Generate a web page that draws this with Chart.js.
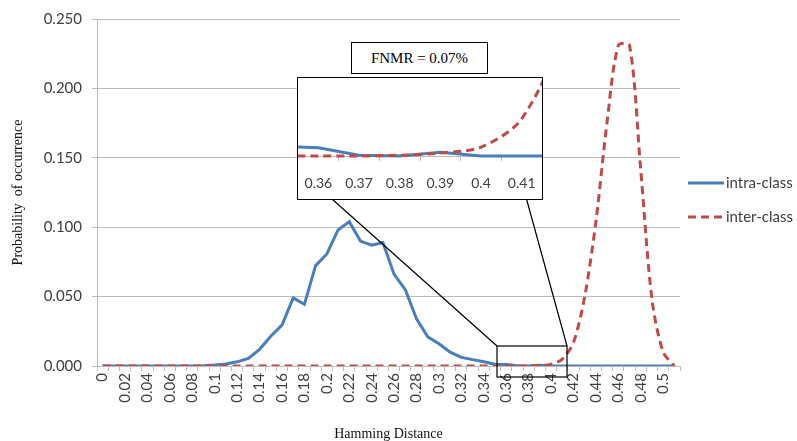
<!DOCTYPE html>
<html>
<head>
<meta charset="utf-8">
<script src="https://cdn.jsdelivr.net/npm/chart.js@4.4.1/dist/chart.umd.min.js"></script>
<style>
  html, body { margin: 0; padding: 0; background: #fff; }
  #wrap { position: relative; width: 797px; height: 441px; overflow: hidden; }
  #mainChart { position: absolute; left: 0; top: 0; }
  #inset { position: absolute; left: 297px; top: 77px; width: 246px; height: 123px;
           box-sizing: border-box; border: 1px solid #000; background: #fff; }
  #fnmr { position: absolute; left: 351px; top: 42px; width: 137px; height: 32px;
          box-sizing: border-box; border: 1px solid #000; background: #fff;
          font: 15px "Liberation Serif", serif; color: #000; text-align: center; line-height: 30px; }
</style>
</head>
<body>
<div id="wrap">
  <canvas id="mainChart" width="797" height="441"></canvas>
  <div id="fnmr">FNMR = 0.07%</div>
  <div id="inset"><canvas id="insetChart" width="244" height="121"></canvas></div>
</div>
<script>
// Hamming distance bins
const categories = ['0', '0.01', '0.02', '0.03', '0.04', '0.05', '0.06', '0.07', '0.08', '0.09',
    '0.1', '0.11', '0.12', '0.13', '0.14', '0.15', '0.16', '0.17', '0.18', '0.19',
    '0.2', '0.21', '0.22', '0.23', '0.24', '0.25', '0.26', '0.27', '0.28', '0.29',
    '0.3', '0.31', '0.32', '0.33', '0.34', '0.35', '0.36', '0.37', '0.38', '0.39',
    '0.4', '0.41', '0.42', '0.43', '0.44', '0.45', '0.46', '0.47', '0.48', '0.49',
    '0.5', '0.51'];

const intraClass = [0, 0, 0, 0, 0, 0, 0, 0, 0, 0.0002,
    0.0007, 0.0015, 0.003, 0.0055, 0.012, 0.0215, 0.0294, 0.049, 0.0444, 0.0723,
    0.0807, 0.098, 0.104, 0.090, 0.087, 0.089, 0.066, 0.055, 0.034, 0.021,
    0.016, 0.010, 0.0062, 0.0046, 0.0031, 0.0013, 0.0011, 0.0001, 0, 0.0005,
    0, 0, 0, 0, 0, 0, 0, 0, 0, 0,
    0, 0];

const interClass = [0, 0, 0, 0, 0, 0, 0, 0, 0, 0,
    0, 0, 0, 0, 0, 0, 0, 0, 0, 0,
    0, 0, 0, 0, 0, 0, 0, 0, 0, 0,
    0, 0, 0, 0, 0, 0, 0, 0, 0.0001, 0.0004,
    0.0012, 0.005, 0.017, 0.05, 0.104, 0.176, 0.231, 0.231, 0.141, 0.048,
    0.01, 0];

const yTicks = [0, 0.05, 0.1, 0.15, 0.2, 0.25];
const insetRange = ['0.36', '0.41'];
const seriesNames = ['intra-class', 'inter-class'];

const blue = '#4A7EBB';
const red = '#BE4B48';
const gridColor = '#bdbdbd';
const textColor = '#404040';
const tickFont = { family: 'Lato', size: 15 };

function makeDatasets() {
    return [
        {
            label: seriesNames[0],
            data: intraClass,
            borderColor: blue,
            backgroundColor: blue,
            borderWidth: 3,
            pointRadius: 0,
            tension: 0,
            order: 1
        },
        {
            label: seriesNames[1],
            data: interClass,
            borderColor: red,
            backgroundColor: red,
            borderWidth: 3,
            borderDash: [8, 5],
            pointRadius: 0,
            tension: 0.3,
            order: 0
        }
    ];
}

// legend + zoom box annotation drawn on top of the main chart
const extrasPlugin = {
    id: 'extras',
    afterDatasetsDraw(chart) {
        const ctx = chart.ctx;
        ctx.save();
        ctx.strokeStyle = '#000';
        ctx.lineWidth = 1.2;
        ctx.strokeRect(497, 346, 70, 31);
        ctx.beginPath();
        ctx.moveTo(332, 199);
        ctx.lineTo(497, 346);
        ctx.moveTo(526.5, 199);
        ctx.lineTo(567, 346);
        ctx.stroke();
        ctx.restore();
    },
    afterDraw(chart) {
        const ctx = chart.ctx;
        const rows = [
            { y: 183, color: blue, dash: [] },
            { y: 217, color: red, dash: [8, 5] }
        ];
        ctx.save();
        ctx.font = '15px Lato';
        ctx.textBaseline = 'middle';
        rows.forEach(function(r, i) {
            ctx.beginPath();
            ctx.setLineDash(r.dash);
            ctx.strokeStyle = r.color;
            ctx.lineWidth = 3;
            ctx.moveTo(688, r.y);
            ctx.lineTo(724, r.y);
            ctx.stroke();
            ctx.setLineDash([]);
            ctx.fillStyle = textColor;
            ctx.fillText(seriesNames[i], 726, r.y);
        });
        ctx.restore();
    }
};

new Chart(document.getElementById('mainChart').getContext('2d'), {
    type: 'line',
    data: { labels: categories, datasets: makeDatasets() },
    plugins: [extrasPlugin],
    options: {
        responsive: false,
        animation: false,
        devicePixelRatio: 1,
        layout: { padding: { left: 0, right: 117, top: 17, bottom: 0 }, autoPadding: false },
        plugins: { legend: { display: false }, tooltip: { enabled: false } },
        scales: {
            x: {
                type: 'category',
                offset: true,
                grid: { drawOnChartArea: false, offset: true, tickLength: 5, color: gridColor },
                border: { color: gridColor },
                ticks: {
                    autoSkip: false,
                    minRotation: 90,
                    maxRotation: 90,
                    padding: 2,
                    color: textColor,
                    font: tickFont,
                    callback: function(value, index) {
                        return index % 2 === 0 ? this.getLabelForValue(value) : '';
                    }
                },
                title: {
                    display: true,
                    text: 'Hamming Distance',
                    color: '#111',
                    font: { family: 'Liberation Serif', size: 14 },
                    padding: { top: 0, bottom: -2 }
                },
                afterFit: function(scale) { scale.height = 75; }
            },
            y: {
                min: 0,
                max: 0.25,
                grid: { color: gridColor, tickLength: 5 },
                border: { color: gridColor },
                afterBuildTicks: function(scale) {
                    scale.ticks = yTicks.map(function(v) { return { value: v }; });
                },
                ticks: {
                    padding: 10,
                    color: textColor,
                    font: tickFont,
                    callback: function(v) { return v.toFixed(3); }
                },
                title: {
                    display: true,
                    text: 'Probability  of occurrence',
                    color: '#111',
                    font: { family: 'Liberation Serif', size: 14 },
                    padding: { top: 10, bottom: 0 }
                },
                afterFit: function(scale) { scale.width = 97; }
            }
        }
    }
});

// zoomed inset around the overlap region; range set after data limits so
// the lines run through to the box edges and get clipped there
const insetDatasets = makeDatasets();
insetDatasets.forEach(function(d) { d.clip = { left: 0, right: 0, top: 0, bottom: 4 }; });

new Chart(document.getElementById('insetChart').getContext('2d'), {
    type: 'line',
    data: { labels: categories, datasets: insetDatasets },
    options: {
        responsive: false,
        animation: false,
        devicePixelRatio: 1,
        layout: { padding: 0, autoPadding: false },
        plugins: { legend: { display: false }, tooltip: { enabled: false } },
        scales: {
            x: {
                type: 'category',
                offset: true,
                afterDataLimits: function(scale) {
                    scale.min = categories.indexOf(insetRange[0]);
                    scale.max = categories.indexOf(insetRange[1]);
                },
                grid: { drawOnChartArea: false, offset: true, tickLength: 5, color: gridColor },
                border: { color: gridColor },
                ticks: {
                    autoSkip: false,
                    maxRotation: 0,
                    padding: 0,
                    color: textColor,
                    // tall line box pushes the labels down without widening the side padding
                    font: { family: 'Lato', size: 14, lineHeight: '44px' }
                },
                afterFit: function(scale) { scale.height = 43; }
            },
            y: { display: false, min: 0, max: 0.0105 }
        }
    }
});
</script>
</body>
</html>
